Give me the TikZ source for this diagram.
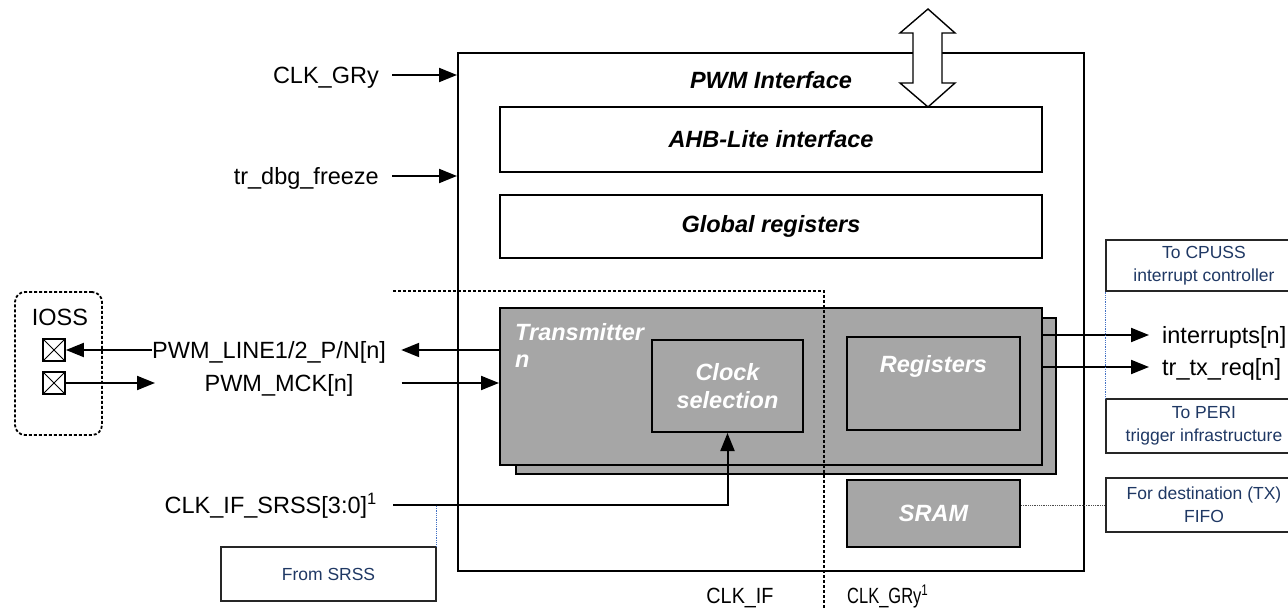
\documentclass[tikz,border=0pt]{standalone}
\usepackage{fontspec}
\setmainfont{Liberation Sans}
\usetikzlibrary{arrows.meta}
\definecolor{blkgray}{HTML}{A6A6A6}
\definecolor{notetext}{HTML}{1F3864}
\definecolor{noteline}{HTML}{4472C4}

\begin{document}
\begin{tikzpicture}[x=1pt,y=-1pt]
    \useasboundingbox (0,0) rectangle (1288,609);

    \tikzstyle{sig}=[font=\fontsize{23.5}{28}\selectfont,inner sep=0pt,text height=16.8pt,text depth=0pt]
    \tikzstyle{blk}=[draw=black,line width=2pt,inner sep=0pt]
    \tikzstyle{wbox}=[blk,fill=white,font=\fontsize{23.5}{28}\selectfont\bfseries\itshape]
    \tikzstyle{gbox}=[blk,fill=blkgray,text=white,align=center,font=\fontsize{23.5}{28}\selectfont\bfseries\itshape]
    \tikzstyle{wtxt}=[inner sep=0pt,text=white,align=left,font=\fontsize{23.5}{27}\selectfont\bfseries\itshape]
    \tikzstyle{note}=[draw=black!85,line width=1.2pt,text=notetext,align=center,font=\fontsize{17.5}{23}\selectfont]
    \tikzstyle{pad}=[draw=black,line width=1.8pt,minimum size=22pt,inner sep=0pt,
        path picture={\draw[line width=1pt] (path picture bounding box.south west) -- (path picture bounding box.north east)
                                             (path picture bounding box.north west) -- (path picture bounding box.south east);}]

    \node[blk,minimum width=626pt,minimum height=518pt] (pwm) at (771,312) {};
    \draw[draw=black,line width=1.4pt,fill=white] (928,9) -- (955,33) -- (942,33) -- (942,83) -- (955,83) -- (928,107)
        -- (900,83) -- (913,83) -- (913,33) -- (900,33) -- cycle;
    \node[sig,font=\fontsize{23.5}{28}\selectfont\bfseries\itshape] (pwmtitle) at (771,80) {PWM Interface};
    \node[wbox,minimum width=542pt,minimum height=65pt] (ahb) at (771,139.5) {AHB-Lite interface};
    \node[wbox,minimum width=542pt,minimum height=63pt] (glob) at (771,226.5) {Global registers};

    \node[gbox,minimum width=540pt,minimum height=156pt] (txback) at (786,396) {};
    \node[gbox,minimum width=542pt,minimum height=157pt] (tx) at (771,386.5) {};
    \node[wtxt,anchor=north west] (txlabel) at (515,323) {Transmitter\\n};
    \node[gbox,minimum width=151pt,minimum height=92pt] (clksel) at (727.5,386) {Clock\\selection};
    \node[gbox,minimum width=173pt,minimum height=93pt] (regs) at (933.5,383.5) {};
    \node[wtxt] (regslabel) at (933.5,366) {Registers};
    \node[gbox,minimum width=173pt,minimum height=67pt] (sram) at (933.5,513.5) {SRAM};

    \node[draw=black,line width=1.8pt,dash pattern=on 3pt off 2pt,rounded corners=10pt,
          minimum width=87pt,minimum height=143pt] (ioss) at (58.5,363.5) {};
    \node[sig] (iosslabel) at (60,317) {IOSS};
    \node[pad] (pad1) at (54,350) {};
    \node[pad] (pad2) at (54,383) {};

    \node[sig,anchor=east] (clkgry) at (379,75) {CLK\_GRy};
    \node[sig,anchor=east] (dbg) at (379,176) {tr\_dbg\_freeze};
    \node[sig,anchor=west] (pwmline) at (152,350) {PWM\_LINE1/2\_P/N[n]};
    \node[sig] (pwmmck) at (279,383) {PWM\_MCK[n]};
    \coordinate (mckin) at (155,383);
    \node[sig,anchor=east] (clksrss) at (377,505) {CLK\_IF\_SRSS[3:0]\textsuperscript{1}};
    \node[sig,anchor=west] (intr) at (1162,335) {interrupts[n]};
    \node[sig,anchor=west] (trtx) at (1162,367) {tr\_tx\_req[n]};
    \node[sig,font=\fontsize{22}{26}\selectfont] (clkif) at (740,595) {\scalebox{0.9}[1]{CLK\_IF}};
    \node[sig,anchor=west,font=\fontsize{22}{26}\selectfont] (clkgryb) at (847,595) {\scalebox{0.75}[1]{CLK\_GRy\textsuperscript{1}}};

    \node[note,minimum width=196pt,minimum height=51pt] (cpuss) at (1204,265.5) {To CPUSS\\interrupt controller};
    \node[note,minimum width=196pt,minimum height=54pt] (peri) at (1204,426) {To PERI\\trigger infrastructure};
    \node[note,minimum width=196pt,minimum height=54pt] (fifo) at (1204,505) {For destination (TX)\\FIFO};
    \node[note,minimum width=215pt,minimum height=54pt] (srss) at (328.5,574) {From SRSS};

    \tikzstyle{fwd}=[draw=black,line width=2pt,-{Triangle[length=18pt,width=14pt]}]
    \tikzstyle{bound}=[draw=black,line width=1.8pt,dash pattern=on 3pt off 2pt]
    \tikzstyle{link}=[draw=noteline,line width=0.8pt,densely dotted]

          \draw [bound] (393,291) -| (824,609);
          \draw [fwd] ([xshift=13pt]clkgry.east) -- (clkgry.east -| pwm.west);
          \draw [fwd] ([xshift=13pt]dbg.east) -- (dbg.east -| pwm.west);
          \draw [fwd] (pwmline.west) -- (pad1.east);
          \draw [fwd] (pwmline.east -| tx.west) -- ([xshift=15pt]pwmline.east);
          \draw [fwd] (pad2.east) -- (mckin);
          \draw [fwd] ([xshift=48pt]pwmmck.east) -- (pwmmck.east -| tx.west);
          \draw [fwd] ([xshift=16pt]clksrss.east) -| (clksel.south);
          \draw [fwd] (intr.west -| tx.east) -- ([xshift=-13pt]intr.west);
          \draw [fwd] (trtx.west -| tx.east) -- ([xshift=-13pt]trtx.west);
          \draw [link] (cpuss.south west) -- (peri.north west);
          \draw [link] (srss.north east) -- (srss.north east |- clksrss.east);
          \draw [link,draw=black!70] (fifo.west -| sram.east) -- (fifo.west);

  \end{tikzpicture}
\end{document}
